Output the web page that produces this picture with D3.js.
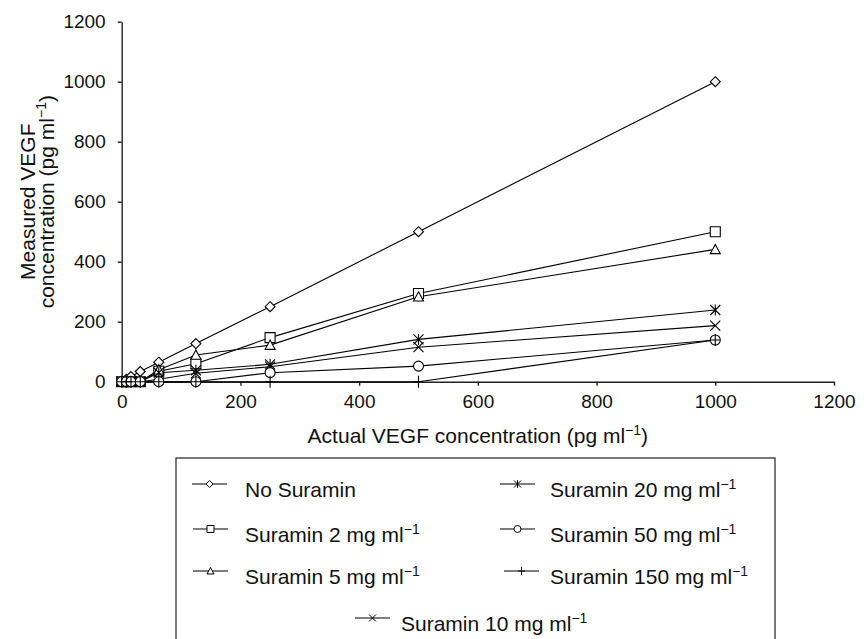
<!DOCTYPE html>
<html>
<head>
<meta charset="utf-8">
<script src="https://cdn.jsdelivr.net/npm/d3@7"></script>
<style>
  body { margin: 0; background: #fff; }
  svg { font-family: "Liberation Sans", Arial, Helvetica, sans-serif; }
</style>
</head>
<body>
<div class="container"></div>
<script>
// actual VEGF concentration (pg/ml)
var actual = [0, 7.8, 15.6, 31.25, 62.5, 125, 250, 500, 1000];

// measured VEGF, one array per suramin level
var noSuramin = [0, 8, 17, 34, 65, 127, 250, 500, 1000];
var suramin2 = [0, 0, 0, 0, 35, 60, 147, 294, 500];
var suramin5 = [0, 0, 0, 0, 40, 89, 122, 283, 441];
var suramin10 = [0, 0, 0, 0, 8, 28, 50, 115, 187];
var suramin20 = [0, 0, 0, 0, 30, 38, 58, 141, 239];
var suramin50 = [0, 0, 0, 0, 0, 0, 30, 52, 139];
var suramin150 = [0, 0, 0, 0, 0, 0, 0, 0, 139];

var seriesNames = ["No Suramin", "Suramin 2", "Suramin 5", "Suramin 10", "Suramin 20", "Suramin 50", "Suramin 150"];
var seriesMarks = ["diamond", "square", "triangle", "x", "asterisk", "circle", "plus"];
var tickValues = [0, 200, 400, 600, 800, 1000, 1200];

var series = [noSuramin, suramin2, suramin5, suramin10, suramin20, suramin50, suramin150].map(function (vals, i) {
  return { name: seriesNames[i], mark: seriesMarks[i], values: vals.map(function (v, j) { return [actual[j], v]; }) };
});

function markPath(type, r) {
  if (type == "diamond") return "M0," + -r + "L" + r + ",0L0," + r + "L" + -r + ",0Z";
  if (type == "square") return "M" + -r + "," + -r + "h" + 2 * r + "v" + 2 * r + "h" + -2 * r + "Z";
  if (type == "triangle") return "M0," + -r + "L" + r + "," + r * 0.85 + "L" + -r + "," + r * 0.85 + "Z";
  if (type == "circle") return "M" + r + ",0A" + r + "," + r + " 0 1,1 " + -r + ",0A" + r + "," + r + " 0 1,1 " + r + ",0Z";
  if (type == "x") return "M" + -r + "," + -r + "L" + r + "," + r + "M" + -r + "," + r + "L" + r + "," + -r;
  if (type == "asterisk") return "M" + -r + "," + -r + "L" + r + "," + r + "M" + -r + "," + r + "L" + r + "," + -r + "M0," + -r * 1.1 + "L0," + r * 1.1;
  if (type == "plus") return "M0," + -r * 1.2 + "L0," + r * 1.2 + "M" + -r + ",0L" + r + ",0";
}

var w = 864, h = 639;
var svg = d3.select(".container").append("svg")
  .attr("width", w)
  .attr("height", h);

svg.append("rect").attr("width", w).attr("height", h).attr("fill", "#fff");

var xScale = d3.scaleLinear().domain([0, 1200]).range([121.7, 834]);
var yScale = d3.scaleLinear().domain([0, 1200]).range([381.7, 21.7]);

var xAxis = svg.append("g")
  .attr("transform", "translate(0," + yScale(0) + ")")
  .call(d3.axisBottom(xScale).tickValues(tickValues).tickFormat(d3.format("d")).tickSize(4).tickSizeOuter(0).tickPadding(9));
var yAxis = svg.append("g")
  .attr("transform", "translate(" + xScale(0) + ",0)")
  .call(d3.axisLeft(yScale).tickValues(tickValues).tickFormat(d3.format("d")).tickSize(4).tickSizeOuter(0).tickPadding(12));

svg.selectAll(".tick text").attr("font-size", 19).attr("fill", "#111").attr("font-family", null);
svg.selectAll(".domain, .tick line").attr("stroke", "#222").attr("stroke-width", 1.4);

// lines
var line = d3.line().x(function (d) { return xScale(d[0]); }).y(function (d) { return yScale(d[1]); });

series.forEach(function (s) {
  svg.append("path")
    .attr("d", line(s.values))
    .attr("fill", "none")
    .attr("stroke", "#000")
    .attr("stroke-width", 1.1);
});

series.forEach(function (s) {
  svg.append("g").selectAll("path")
    .data(s.values)
    .enter()
    .append("path")
    .attr("transform", function (d) { return "translate(" + xScale(d[0]) + "," + yScale(d[1]) + ")"; })
    .attr("d", markPath(s.mark, 5))
    .attr("fill", s.mark == "diamond" || s.mark == "square" || s.mark == "triangle" || s.mark == "circle" ? "#fff" : "none")
    .attr("stroke", "#000")
    .attr("stroke-width", 1.1);
});

// axis titles
var xt = svg.append("text")
  .attr("x", xScale(600))
  .attr("y", 443)
  .attr("text-anchor", "middle")
  .attr("font-size", 21)
  .attr("fill", "#111");
xt.append("tspan").text("Actual VEGF concentration (pg ml");
xt.append("tspan").attr("dy", -8).attr("font-size", 14).text("−1");
xt.append("tspan").attr("dy", 8).text(")");

var yt = svg.append("text")
  .attr("transform", "rotate(-90)")
  .attr("text-anchor", "middle")
  .attr("font-size", 21)
  .attr("fill", "#111");
yt.append("tspan").attr("x", -yScale(600)).attr("y", 35).text("Measured VEGF");
var yt2 = svg.append("text")
  .attr("transform", "rotate(-90)")
  .attr("text-anchor", "middle")
  .attr("font-size", 21)
  .attr("fill", "#111")
  .attr("x", -yScale(600))
  .attr("y", 54);
yt2.append("tspan").text("concentration (pg ml");
yt2.append("tspan").attr("dy", -8).attr("font-size", 14).text("−1");
yt2.append("tspan").attr("dy", 8).text(")");

// legend
svg.append("rect")
  .attr("x", 176).attr("y", 458)
  .attr("width", 599).attr("height", 240)
  .attr("fill", "none")
  .attr("stroke", "#333")
  .attr("stroke-width", 1.3);

var legendPos = [
  { lx: 192, ly: 484, tx: 245 },
  { lx: 193, ly: 529, tx: 245 },
  { lx: 193, ly: 571, tx: 245 },
  { lx: 355, ly: 618, tx: 401 },
  { lx: 500, ly: 484, tx: 550 },
  { lx: 500, ly: 529, tx: 550 },
  { lx: 504, ly: 571, tx: 550 }
];

series.forEach(function (s, i) {
  var p = legendPos[i];
  var g = svg.append("g");
  g.append("line")
    .attr("x1", p.lx).attr("x2", p.lx + 35)
    .attr("y1", p.ly).attr("y2", p.ly)
    .attr("stroke", "#000").attr("stroke-width", 1.1);
  g.append("path")
    .attr("transform", "translate(" + (p.lx + 17.5) + "," + p.ly + ")")
    .attr("d", markPath(s.mark, 3.5))
    .attr("fill", s.mark == "diamond" || s.mark == "square" || s.mark == "triangle" || s.mark == "circle" ? "#fff" : "none")
    .attr("stroke", "#000").attr("stroke-width", 1);
  var t = g.append("text")
    .attr("x", p.tx).attr("y", p.ly + 12.5)
    .attr("font-size", 21)
    .attr("fill", "#111");
  if (i == 0) {
    t.text(s.name);
  } else {
    t.append("tspan").text(s.name + " mg ml");
    t.append("tspan").attr("dy", -8).attr("font-size", 14).text("−1");
  }
});
</script>
</body>
</html>
